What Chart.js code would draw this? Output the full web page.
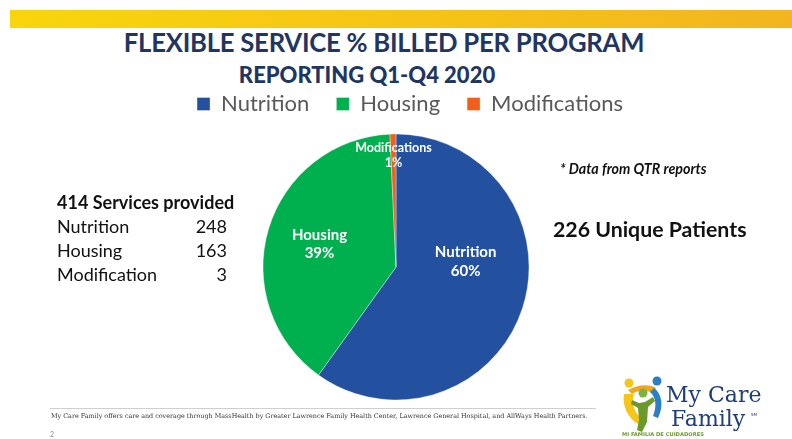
<!DOCTYPE html>
<html>
<head>
<meta charset="utf-8">
<script src="https://cdn.jsdelivr.net/npm/chart.js@4.4.1/dist/chart.umd.min.js"></script>
<style>
  html, body { margin: 0; padding: 0; background: #fff; overflow: hidden; }
  body { width: 792px; height: 439px; position: relative; font-family: Lato, "Open Sans", sans-serif; }
  .bar { position: absolute; left: 10px; top: 10px; width: 782px; height: 18px;
         background: linear-gradient(to right, #f8d50c, #f2b51f); }
  .t { position: absolute; white-space: nowrap; }
  #title { left: 0; width: 768px; top: 27px; text-align: center; font-size: 25.7px; font-weight: 700; color: #1f3662; letter-spacing: -0.25px; }
  #sub { left: 0; width: 734px; top: 61px; text-align: center; font-size: 22px; font-weight: 900; color: #1f3662; }
  #box { position: absolute; left: 0; top: 66px; width: 792px; height: 343px; }
  .stats { left: 57px; top: 190px; font-size: 18px; color: #111; line-height: 24px; }
  .stats b { font-weight: 700; }
  .stats .row { display: flex; width: 170px; justify-content: space-between; }
  #note { left: 560px; top: 160px; font-size: 14.3px; font-weight: 700; font-style: italic; color: #111; }
  #uniq { left: 553px; top: 216px; font-size: 21.3px; font-weight: 700; color: #111; }
  .rule { position: absolute; left: 50px; top: 408px; width: 546px; height: 1px; background: #cfcfcf; }
  #foot { left: 51px; top: 412px; font-family: "DejaVu Serif", serif; font-size: 6.4px; color: #333; }
  #pg { left: 50px; top: 430px; font-size: 7px; color: #888; }
  #logo { position: absolute; left: 620px; top: 372px; }
</style>
</head>
<body>
<div class="bar"></div>
<div class="t" id="title">FLEXIBLE SERVICE % BILLED PER PROGRAM</div>
<div class="t" id="sub">REPORTING Q1-Q4 2020</div>
<div id="box"><canvas id="myChart"></canvas></div>
<div class="t stats" id="stats"></div>
<div class="t" id="note">* Data from QTR reports</div>
<div class="t" id="uniq">226 Unique Patients</div>
<div class="rule"></div>
<div class="t" id="foot">My Care Family offers care and coverage through MassHealth by Greater Lawrence Family Health Center, Lawrence General Hospital, and AllWays Health Partners.</div>
<div class="t" id="pg">2</div>
<svg id="logo" width="172" height="67" viewBox="0 0 172 67">
  <circle cx="9" cy="11" r="4.5" fill="#f5c518"/>
  <path d="M4 22 C2 34 8 46 18 52 L22 47 C14 40 11 31 14 22 Z" fill="#f5c518"/>
  <path d="M8 18 C18 12 30 12 36 16 L33 21 C26 18 18 18 12 22 Z" fill="#f2a71b"/>
  <circle cx="37" cy="9" r="4.5" fill="#2a80c4"/>
  <path d="M34 16 C42 22 44 34 38 46 L33 44 C37 34 36 25 30 20 Z" fill="#2a80c4"/>
  <circle cx="23" cy="21" r="4.5" fill="#7cb342"/>
  <path d="M12 28 L19 31 L25 30 L33 25 L35 29 L28 35 L27 50 L22 60 L17 58 L19 48 L18 36 L11 32 Z" fill="#6a9a2c"/>
  <text x="46" y="30" font-family="DejaVu Serif, serif" font-size="22" fill="#1f3d7a">My Care</text>
  <text x="51" y="54" font-family="DejaVu Serif, serif" font-size="22" fill="#1f3d7a">Family</text>
  <text x="131" y="44" font-family="DejaVu Sans, sans-serif" font-size="4" fill="#1f3d7a">SM</text>
  <text x="2" y="64" font-family="DejaVu Sans, sans-serif" font-size="5.2" font-weight="bold" fill="#6a9a2c">MI FAMILIA DE CUIDADORES</text>
</svg>
<script>
// chart data
const programs = ['Nutrition', 'Housing', 'Modifications'];
const services = [248, 163, 3];
const percentLabels = ['60%', '39%', '1%'];
const sliceColors = ['#23519f', '#00b04f', '#f05f1b'];

// side table
const tableNames = ['Nutrition', 'Housing', 'Modification'];
const totalServices = 414;

let html = '<b>' + totalServices + ' Services provided</b>';
tableNames.forEach(function (n, i) {
    html += '<div class="row"><span>' + n + '</span><span>' + services[i] + '</span></div>';
});
document.getElementById('stats').innerHTML = html;

// labels inside the slices
const sliceLabels = {
    id: 'sliceLabels',
    afterDatasetsDraw(chart, args, opts) {
        const ctx = chart.ctx;
        const meta = chart.getDatasetMeta(0);
        ctx.save();
        ctx.fillStyle = '#fff';
        ctx.textAlign = 'center';
        ctx.textBaseline = 'middle';
        meta.data.forEach(function (arc, i) {
            const p = arc.getProps(['x', 'y', 'startAngle', 'endAngle', 'outerRadius']);
            const a = (p.startAngle + p.endAngle) / 2;
            const r = p.outerRadius * opts.radius[i];
            const x = p.x + Math.cos(a) * r;
            const y = p.y + Math.sin(a) * r + opts.shift[i];
            const fs = opts.size[i];
            ctx.font = 'bold ' + fs + 'px Lato';
            ctx.fillText(programs[i], x, y - fs * 0.62);
            ctx.fillText(percentLabels[i], x, y + fs * 0.62);
        });
        ctx.restore();
    }
};

// nudge the legend to sit where the slide has it
const legendShift = {
    id: 'legendShift',
    afterLayout(chart) {
        chart.legend.left += 14;
        chart.legend.right += 14;
    }
};

new Chart(document.getElementById('myChart'), {
    type: 'pie',
    data: {
        labels: programs,
        datasets: [{
            data: services,
            backgroundColor: sliceColors,
            borderColor: 'rgba(255,255,255,0.35)',
            borderWidth: 1,
            radius: 133
        }]
    },
    options: {
        responsive: true,
        maintainAspectRatio: false,
        animation: false,
        layout: {padding: 0},
        plugins: {
            legend: {
                position: 'top',
                labels: {
                    font: {family: 'Lato', size: 22},
                    color: '#595959',
                    boxWidth: 13,
                    boxHeight: 13,
                    padding: 27
                }
            },
            tooltip: {enabled: false},
            sliceLabels: {radius: [0.55, 0.6, 0.84], shift: [-28, 0, 0], size: [15, 15, 12.5]}
        }
    },
    plugins: [sliceLabels, legendShift]
});
</script>
</body>
</html>
